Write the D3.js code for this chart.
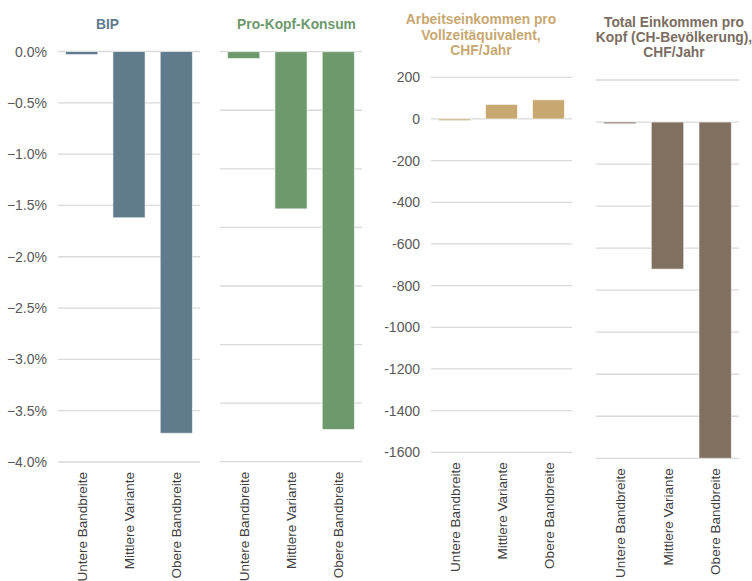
<!DOCTYPE html>
<html>
<head>
<meta charset="utf-8">
<script src="https://cdn.jsdelivr.net/npm/d3@7"></script>
<style>
  html, body { margin: 0; padding: 0; background: #fff; }
  svg { display: block; font-family: "Liberation Sans", Arial, sans-serif; }
</style>
</head>
<body>
<svg id="chart" width="752" height="581"></svg>
<script>
// Scenario categories shared by all four panels
const categories = ["Untere Bandbreite", "Mittlere Variante", "Obere Bandbreite"];

// Panel values
const bipValues = [-0.03, -1.62, -3.72];          // % change
const konsumValues = [-0.07, -1.61, -3.87];       // % change
const arbeitValues = [-8, 70, 92];                // CHF/Jahr
const totalValues = [-8, -700, -1600];            // CHF/Jahr

// Tick values
const pctTicks = [0, -0.5, -1.0, -1.5, -2.0, -2.5, -3.0, -3.5, -4.0];
const konsumTicks = [0, -0.6, -1.2, -1.8, -2.4, -3.0, -3.6, -4.2];
const chfTicks = [200, 0, -200, -400, -600, -800, -1000, -1200, -1400, -1600];

const panels = [
  { title: ["BIP"], color: "#5f7b8c", titleColor: "#5f7b8c", values: bipValues,
    domain: [-4.0, 0], ticks: pctTicks, showLabels: true, fmt: d => d3.format(".1f")(d) + "%",
    x0: 58, x1: 200, y0: 51.5, y1: 462, titleX: 107.5, titleY: 29, lineH: 15.5 },
  { title: ["Pro-Kopf-Konsum"], color: "#6d996d", titleColor: "#6d996d", values: konsumValues,
    domain: [-4.2, 0], ticks: konsumTicks, showLabels: false,
    x0: 220, x1: 362, y0: 51.7, y1: 461.7, titleX: 296.5, titleY: 29, lineH: 15.5 },
  { title: ["Arbeitseinkommen pro", "Vollzeitäquivalent,", "CHF/Jahr"], color: "#c8a871", titleColor: "#c8a871",
    values: arbeitValues, domain: [-1600, 200], ticks: chfTicks, showLabels: true, fmt: d => String(d),
    x0: 431, x1: 572, y0: 77.3, y1: 452.3, titleX: 481, titleY: 24, lineH: 15.5 },
  { title: ["Total Einkommen pro", "Kopf  (CH-Bevölkerung),", "CHF/Jahr"], color: "#807060", titleColor: "#7a6d61",
    values: totalValues, domain: [-1600, 200], ticks: chfTicks, showLabels: false,
    x0: 596, x1: 739, y0: 80, y1: 458.3, titleX: 674, titleY: 26.5, lineH: 15 }
];

const svg = d3.select("#chart");

panels.forEach(p => {
  const g = svg.append("g");
  const x = d3.scaleBand().domain(categories).range([p.x0, p.x1]).paddingInner(0.32).paddingOuter(0.16);
  const y = d3.scaleLinear().domain(p.domain).range([p.y1, p.y0]);

  // Gridlines
  g.selectAll("line.grid").data(p.ticks).join("line")
    .attr("x1", p.x0).attr("x2", p.x1)
    .attr("y1", d => y(d)).attr("y2", d => y(d))
    .attr("stroke", "#d9d9d9").attr("stroke-width", 1.3);

  // Tick labels
  if (p.showLabels) {
    g.selectAll("text.tick").data(p.ticks).join("text")
      .attr("x", p.x0 - 11).attr("y", d => y(d)).attr("dy", "0.36em")
      .attr("text-anchor", "end").attr("font-size", 14).attr("fill", "#595959")
      .text(p.fmt);
  }

  // Bars
  g.selectAll("rect.bar").data(p.values).join("rect")
    .attr("x", (d, i) => x(categories[i]))
    .attr("width", x.bandwidth())
    .attr("y", d => y(Math.max(0, d)))
    .attr("height", d => Math.abs(y(d) - y(0)))
    .attr("fill", p.color)
    .attr("stroke", "#ffffff").attr("stroke-opacity", 0.6).attr("stroke-width", 1);

  // Category labels, rotated
  g.selectAll("text.cat").data(categories).join("text")
    .attr("transform", d => `translate(${x(d) + x.bandwidth() / 2 + 5},${p.y1 + 10}) rotate(-90)`)
    .attr("text-anchor", "end").attr("font-size", 13.5).attr("fill", "#404040")
    .text(d => d);

  // Title
  const t = g.append("text").attr("text-anchor", "middle").attr("font-size", 13.8)
    .attr("font-weight", "bold").attr("fill", p.titleColor);
  p.title.forEach((line, i) => {
    t.append("tspan").attr("x", p.titleX).attr("y", p.titleY + i * p.lineH).text(line);
  });
});
</script>
</body>
</html>
